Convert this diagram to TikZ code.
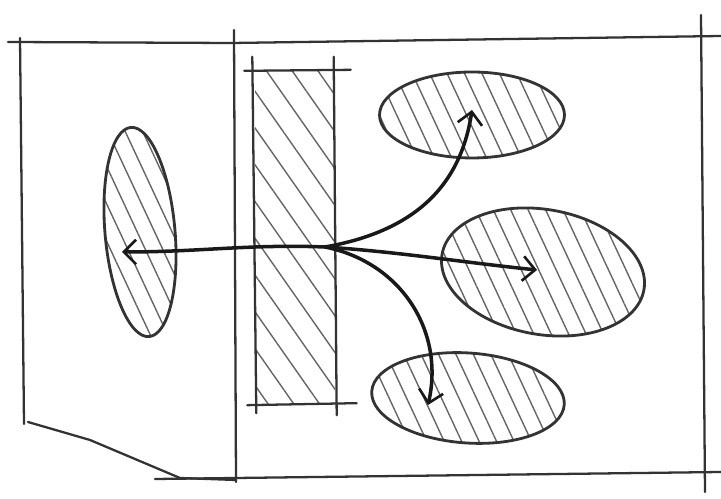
\documentclass[tikz,border=0pt]{standalone}
\usetikzlibrary{arrows.meta,shapes.geometric,patterns.meta,positioning,calc}

\begin{document}
\begin{tikzpicture}[
  x=0.02cm,y=-0.02cm,
  wall/.style={draw=black!80,line width=1.3pt,line cap=round},
  hatch/.style={pattern={Lines[angle=-65,distance=9pt,line width=0.8pt]},pattern color=black!60},
  wallhatch/.style={pattern={Lines[angle=-55,distance=12pt,line width=0.8pt]},pattern color=black!60},
  blob/.style={ellipse,draw=black!80,line width=1.6pt,hatch,inner sep=0pt},
  flow/.style={draw=black!90,line width=2pt,line cap=round,-{Straight Barb[length=7pt,width=14pt,line width=1.5pt]}}
]
  \useasboundingbox (0,0) rectangle (721,499);

  % frame
  \draw[wall] (8,42) -- (232,43) -- (721,36);
  \draw[wall] (20,38) -- (24,424);
  \draw[wall] (234,30) -- (236,482);
  \draw[wall] (701,15) -- (705,492);
  \draw[wall] (28,422) -- (90,440) -- (180,478) -- (236,480);
  \draw[wall] (155,479) -- (721,472);

  % hatched column
  \node[wallhatch,minimum width=1.6cm,minimum height=6.66cm,inner sep=0pt] (column) at (295,238) {};
  \draw[wall] ($(column.north west)+(-10,0)$) -- ($(column.north east)+(15,-1)$);
  \draw[wall] ($(column.south west)+(-7,0)$) -- ($(column.south east)+(21,-2)$);
  \draw[wall] ($(column.north west)+(-2,-14)$) -- ($(column.south west)+(2,8)$);
  \draw[wall] ($(column.north east)+(-2,-14)$) -- ($(column.south east)+(1,10)$);

  % targets
  \node[blob,minimum width=1.4cm,minimum height=4.2cm,rotate=5] (west) at (140,232) {};
  \node[blob,minimum width=3.7cm,minimum height=1.72cm] (northeast) at (472,115) {};
  \node[blob,minimum width=4.1cm,minimum height=2.5cm,rotate=-10] (east) at (543,272) {};
  \node[blob,minimum width=3.86cm,minimum height=1.8cm,rotate=-4] (southeast) at (468,398) {};

  \coordinate (hub) at (325,247);
  \coordinate (westtip) at (122,252);
  \coordinate (northtip) at (472,110);
  \coordinate (easttip) at (537,270);
  \coordinate (southtip) at (428,405);

  \draw[flow] (hub) .. controls (250,244) and (200,252) .. (westtip);
  \draw[flow] (hub) .. controls (410,232) and (460,190) .. (northtip);
  \draw[flow] (hub) .. controls (400,252) and (460,262) .. (easttip);
  \draw[flow] (hub) .. controls (400,262) and (445,330) .. (southtip);
\end{tikzpicture}
\end{document}
